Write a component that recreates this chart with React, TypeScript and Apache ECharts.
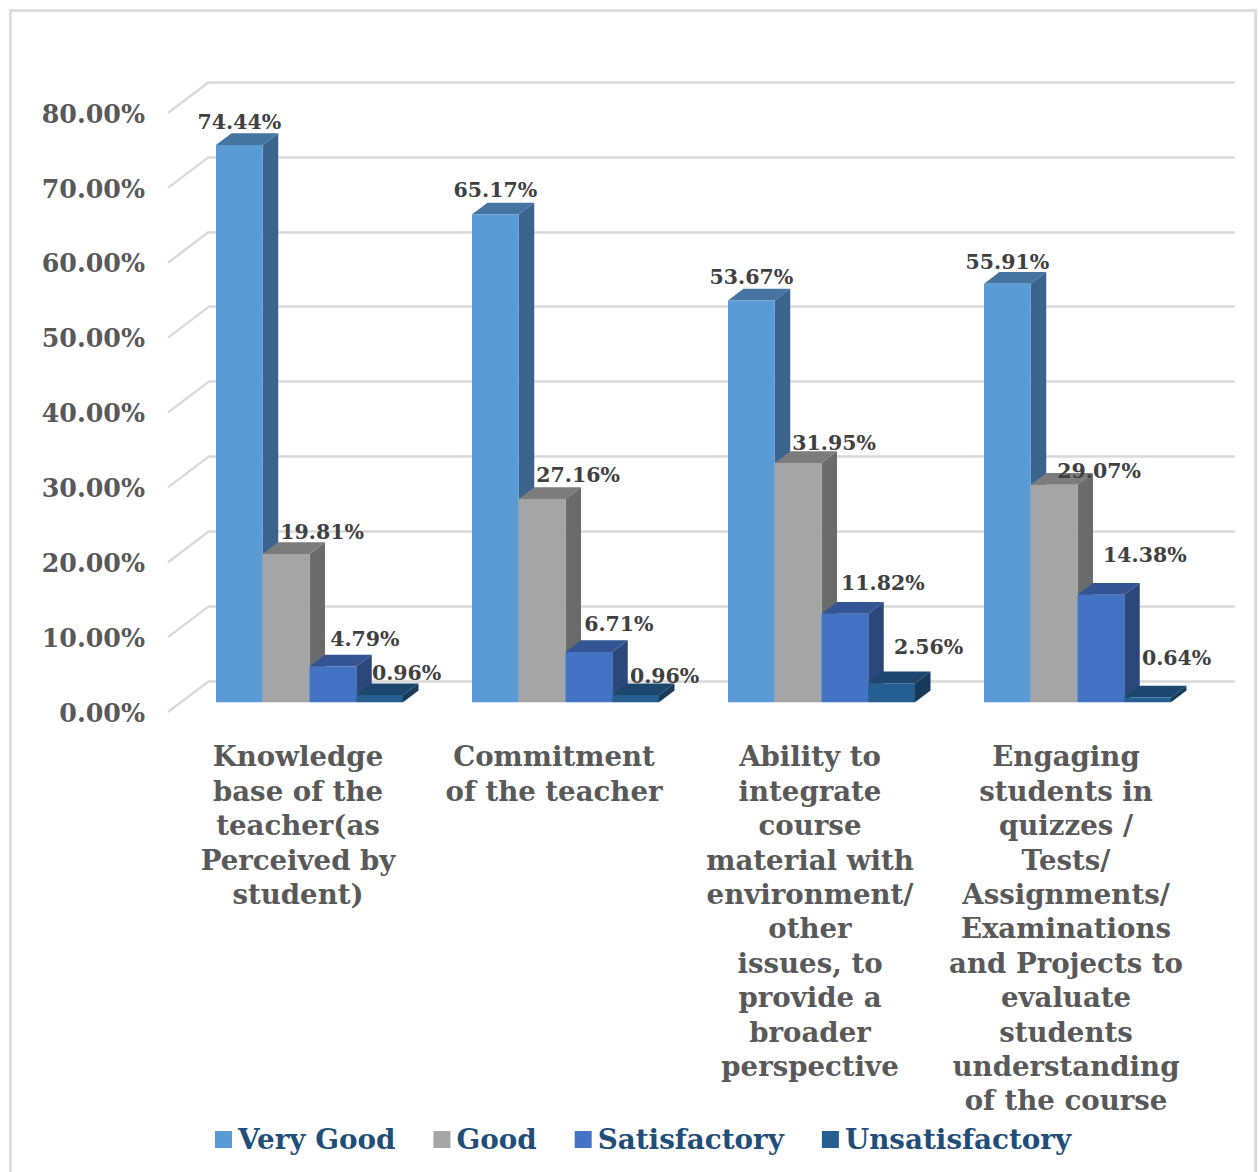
import React, { useEffect, useRef } from "react";
import * as echarts from "echarts";

const categories = [
  "Knowledge\nbase of the\nteacher(as\nPerceived by\nstudent)",
  "Commitment\nof the teacher",
  "Ability to\nintegrate\ncourse\nmaterial with\nenvironment/\nother\nissues, to\nprovide a\nbroader\nperspective",
  "Engaging\nstudents in\nquizzes /\nTests/\nAssignments/\nExaminations\nand Projects to\nevaluate\nstudents\nunderstanding\nof the course",
];
const seriesNames = ["Very Good", "Good", "Satisfactory", "Unsatisfactory"];
const veryGood = [74.44, 65.17, 53.67, 55.91];
const good = [19.81, 27.16, 31.95, 29.07];
const satisfactory = [4.79, 6.71, 11.82, 14.38];
const unsatisfactory = [0.96, 0.96, 2.56, 0.64];
const allValues = [veryGood, good, satisfactory, unsatisfactory];
const yTicks = [0, 10, 20, 30, 40, 50, 60, 70, 80];

const faceColors = ["#5b9bd5", "#a5a5a5", "#4472c4", "#255e91"];
const topColors = ["#4674a0", "#7c7c7c", "#335593", "#1c466d"];
const sideColors = ["#3a648c", "#6b6b6b", "#2b477b", "#17395a"];
// label offset from the top centre of each bar's front face [series][category]
const labelOffsets: number[][][] = [
  [[0, -23], [0, -24], [0, -23], [0, -22]],
  [[36, -22], [36, -24], [36, -20], [45, -14]],
  [[32, -27], [30, -28], [38, -31], [44, -40]],
  [[27, -22], [29, -19], [37, -36], [29, -40]],
];

const SERIF = "'DejaVu Serif', serif";
const DEPTH_X = 15.5;
const DEPTH_Y = 11.7;
const BAR_W = 46.75;

function barRender(si: number) {
  return (params: any, api: any) => {
    const cat = api.value(0);
    const v = api.value(1);
    const top = api.coord([cat, v]);
    const base = api.coord([cat, 0]);
    const x0 = top[0] + (si - 2) * BAR_W;
    const x1 = x0 + BAR_W;
    const yt = top[1];
    const yb = base[1];
    const off = labelOffsets[si][cat];
    return {
      type: "group",
      children: [
        {
          type: "polygon",
          shape: { points: [[x1, yt], [x1 + DEPTH_X, yt - DEPTH_Y], [x1 + DEPTH_X, yb - DEPTH_Y], [x1, yb]] },
          style: { fill: sideColors[si] },
        },
        {
          type: "polygon",
          shape: { points: [[x0, yt], [x0 + DEPTH_X, yt - DEPTH_Y], [x1 + DEPTH_X, yt - DEPTH_Y], [x1, yt]] },
          style: { fill: topColors[si] },
        },
        {
          type: "rect",
          shape: { x: x0, y: yt, width: BAR_W, height: yb - yt },
          style: { fill: faceColors[si] },
        },
        {
          type: "text",
          z2: 100,
          x: x0 + BAR_W / 2 + off[0],
          y: yt + off[1],
          style: {
            text: v.toFixed(2) + "%",
            fill: "#404040",
            font: `bold 20.5px ${SERIF}`,
            align: "center",
            verticalAlign: "middle",
          },
        },
      ],
    };
  };
}

function wallDiagonalRender(params: any, api: any) {
  const p = api.coord([0, api.value(0)]);
  return {
    type: "line",
    shape: { x1: 209, y1: p[1], x2: 168, y2: p[1] + 31 },
    style: { stroke: "#d9d9d9", lineWidth: 2.5 },
  };
}

export default function App() {
  const ref = useRef<HTMLDivElement>(null);
  useEffect(() => {
    const chart = echarts.init(ref.current!, null, { renderer: "svg" });
    chart.setOption({
      animation: false,
      backgroundColor: "#ffffff",
      graphic: [
        {
          type: "rect",
          silent: true,
          z: -1,
          shape: { x: 10.5, y: 10.5, width: 1245, height: 1180 },
          style: { fill: "none", stroke: "#dcdcdc", lineWidth: 3 },
        },
      ],
      grid: [
        { left: 181.5, width: 1024, top: 103.3, height: 599 },
        { left: 170, width: 1024, top: 113.7, height: 599 },
        { left: 209, width: 1026, top: 82, height: 599 },
      ],
      xAxis: [
        { gridIndex: 0, type: "category", data: categories, show: false },
        {
          gridIndex: 1,
          type: "category",
          data: categories,
          axisLine: { show: false },
          axisTick: { show: false },
          axisLabel: {
            interval: 0,
            margin: 27,
            color: "#595959",
            fontFamily: SERIF,
            fontWeight: "bold",
            fontSize: 27.6,
            lineHeight: 34.4,
            align: "center",
            verticalAlign: "top",
          },
        },
        { gridIndex: 2, type: "category", data: categories, show: false },
      ],
      yAxis: [
        { gridIndex: 0, type: "value", min: 0, max: 80, interval: 10, show: false },
        {
          gridIndex: 1,
          type: "value",
          min: 0,
          max: 80,
          interval: 10,
          axisLine: { show: false },
          axisTick: { show: false },
          splitLine: { show: false },
          axisLabel: {
            margin: 25,
            color: "#595959",
            fontFamily: SERIF,
            fontWeight: "bold",
            fontSize: 25.3,
            formatter: (v: number) => v.toFixed(2) + "%",
          },
        },
        {
          gridIndex: 2,
          type: "value",
          min: 0,
          max: 80,
          interval: 10,
          axisLine: { show: false },
          axisTick: { show: false },
          axisLabel: { show: false },
          splitLine: { show: true, lineStyle: { color: "#d9d9d9", width: 2.5 } },
        },
      ],
      legend: {
        left: 210,
        top: 1120.5,
        itemWidth: 17,
        itemHeight: 17,
        itemGap: 38,
        icon: "rect",
        data: seriesNames,
        textStyle: {
          color: "#1f4e79",
          fontFamily: SERIF,
          fontWeight: "bold",
          fontSize: 27.8,
          padding: [0, 0, 0, 1],
        },
      },
      series: [
        {
          type: "custom",
          name: "wall",
          xAxisIndex: 2,
          yAxisIndex: 2,
          silent: true,
          data: yTicks.map((t) => [t]),
          encode: { y: 0 },
          renderItem: wallDiagonalRender,
        },
        ...allValues.map((vals, si) => ({
          type: "custom",
          name: seriesNames[si],
          xAxisIndex: 0,
          yAxisIndex: 0,
          itemStyle: { color: faceColors[si] },
          data: vals.map((v, c) => [c, v]),
          encode: { x: 0, y: 1 },
          renderItem: barRender(si),
        })),
      ],
    });
    return () => chart.dispose();
  }, []);
  return (
    <div
      ref={ref}
      style={{ position: "absolute", left: 0, top: 0, width: 1259, height: 1172 }}
    />
  );
}
